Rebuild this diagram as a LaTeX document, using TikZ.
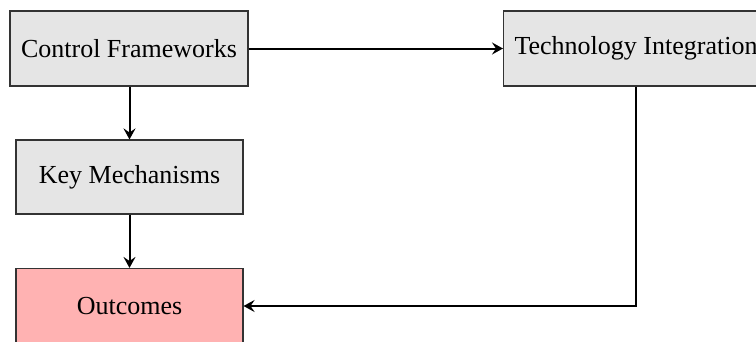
\documentclass[tikz,border=0pt]{standalone}
\usepackage{fontspec}
\setmainfont{Liberation Serif}
\usetikzlibrary{arrows.meta}
\begin{document}
\begin{tikzpicture}[x=1pt,y=-1pt,
  box/.style={draw=black!80, line width=1.1pt, fill=black!10, minimum height=75pt, inner xsep=11pt, font=\fontsize{26}{30}\selectfont},
  outbox/.style={box, fill=red!30},
  conn/.style={line width=2pt, -{Stealth[length=11pt,width=12pt,inset=4pt]}}]
\useasboundingbox (0,0) rectangle (756,341);
\clip (0,0) rectangle (756,341);
\node[box, minimum width=238pt] (cf) at (129,48.5) {Control Frameworks};
\node[box, anchor=west] (ti) at (503,48.5) {Technology Integration};
\node[box, minimum width=227pt, minimum height=74pt] (km) at (129.5,177) {Key Mechanisms};
\node[outbox, minimum width=227pt] (oc) at (129.5,306) {Outcomes};
\coordinate (corner) at (636,306);
\draw[conn] (cf.east) -- (ti.west);
\draw[conn] (cf.south -| km.north) -- (km.north);
\draw[conn] (km.south) -- (oc.north);
\draw[conn] (ti.south -| corner) -- (corner) -- (oc.east);
\end{tikzpicture}
\end{document}
